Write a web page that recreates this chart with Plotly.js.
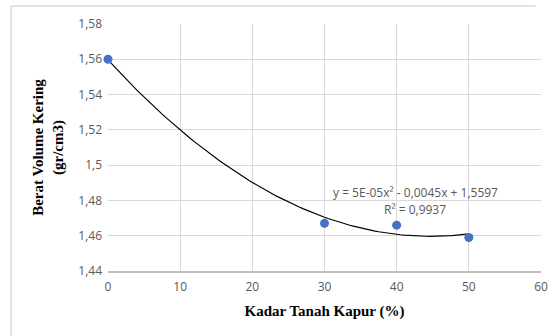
<!DOCTYPE html>
<html>
<head>
<meta charset="utf-8">
<script src="https://cdn.plot.ly/plotly-3.0.1.min.js"></script>
<style>html,body{margin:0;padding:0;background:#fff;}#chart{width:555px;height:336px;}</style>
</head>
<body>
<div id="chart"></div>
<script>
// Data
const kadarTanahKapur = [0, 30, 40, 50];
const beratVolumeKering = [1.56, 1.467, 1.466, 1.459];
const xTickVals = [0, 10, 20, 30, 40, 50, 60];
const xTickText = ['0', '10', '20', '30', '40', '50', '60'];
const yTickVals = [1.44, 1.46, 1.48, 1.5, 1.52, 1.54, 1.56, 1.58];
const yTickText = ['1,44', '1,46', '1,48', '1,5', '1,52', '1,54', '1,56', '1,58'];
const trendEquation = 'y = 5E-05x² - 0,0045x + 1,5597';
const trendR2 = 'R² = 0,9937';

// Polynomial (order 2) least-squares trendline computed from the data
function quadFit(xs, ys) {
  let S = [0,0,0,0,0], T = [0,0,0];
  for (let i = 0; i < xs.length; i++) {
    let p = 1;
    for (let k = 0; k < 5; k++) { S[k] += p; if (k < 3) T[k] += p * ys[i]; p *= xs[i]; }
  }
  const A = [[S[0],S[1],S[2],T[0]],[S[1],S[2],S[3],T[1]],[S[2],S[3],S[4],T[2]]];
  for (let c = 0; c < 3; c++) {
    let piv = c;
    for (let r = c+1; r < 3; r++) if (Math.abs(A[r][c]) > Math.abs(A[piv][c])) piv = r;
    [A[c], A[piv]] = [A[piv], A[c]];
    for (let r = 0; r < 3; r++) if (r !== c) {
      const f = A[r][c] / A[c][c];
      for (let k = c; k < 4; k++) A[r][k] -= f * A[c][k];
    }
  }
  return [A[0][3]/A[0][0], A[1][3]/A[1][1], A[2][3]/A[2][2]];
}
const coef = quadFit(kadarTanahKapur, beratVolumeKering);
const xMin = Math.min(...kadarTanahKapur), xMax = Math.max(...kadarTanahKapur);
const trendX = [], trendY = [];
for (let i = 0; i <= 100; i++) {
  const x = xMin + (xMax - xMin) * i / 100;
  trendX.push(x);
  trendY.push(coef[0] + coef[1]*x + coef[2]*x*x);
}

const W = 555, H = 336;
const m = {l: 108, r: 13.5, t: 24, b: 65.3};
const pw = W - m.l - m.r, ph = H - m.t - m.b;
const px = v => (v - m.l) / pw;
const py = v => (H - m.b - v) / ph;

const traces = [
  {x: trendX, y: trendY, mode: 'lines', line: {color: '#000000', width: 1.2}, hoverinfo: 'skip', showlegend: false},
  {x: kadarTanahKapur, y: beratVolumeKering, mode: 'markers', marker: {color: '#4472C4', size: 9}, showlegend: false, cliponaxis: false}
];

const sansFam = 'Open Sans, Liberation Sans, sans-serif';
const tickFont = {family: sansFam, size: 12, color: '#595959'};
const titleFont = {family: 'Liberation Serif, Times New Roman, serif', size: 15, color: '#000000', weight: 'bold'};

const layout = {
  width: W, height: H,
  margin: m,
  paper_bgcolor: '#ffffff', plot_bgcolor: '#ffffff',
  separators: ',.',
  showlegend: false,
  xaxis: {
    range: [0, 60], tickvals: xTickVals, ticktext: xTickText,
    showgrid: true, gridcolor: '#d9d9d9', gridwidth: 1,
    zeroline: false, showline: true, linecolor: '#bfbfbf', linewidth: 1.5,
    ticks: '', tickfont: tickFont, ticklabelstandoff: 4, automargin: false,
    title: {text: '<b>Kadar Tanah Kapur (%)</b>', font: titleFont, standoff: 11}
  },
  yaxis: {
    range: [1.44, 1.58], tickvals: yTickVals, ticktext: yTickText,
    showgrid: true, gridcolor: '#d9d9d9', gridwidth: 1,
    zeroline: false, showline: false,
    ticks: '', tickfont: tickFont, ticklabelstandoff: 5, automargin: false,
    title: {text: '<b>Berat Volume Kering<br>(gr/cm3)</b>', font: titleFont, standoff: 11}
  },
  annotations: [
    {x: 42.6, y: 1.4843, xref: 'x', yref: 'y', text: trendEquation, showarrow: false, font: {family: sansFam, size: 12, color: '#595959'}},
    {x: 42.6, y: 1.4747, xref: 'x', yref: 'y', text: trendR2, showarrow: false, font: {family: sansFam, size: 12, color: '#595959'}}
  ],
  shapes: [
    {type: 'line', xref: 'paper', yref: 'paper', x0: px(11), x1: px(536), y0: py(6), y1: py(6), line: {color: '#d9d9d9', width: 1.5}},
    {type: 'line', xref: 'paper', yref: 'paper', x0: px(11), x1: px(11), y0: py(6), y1: py(336), line: {color: '#d9d9d9', width: 1.5}}
  ]
};

Plotly.newPlot('chart', traces, layout, {displayModeBar: false, staticPlot: true});
</script>
</body>
</html>
